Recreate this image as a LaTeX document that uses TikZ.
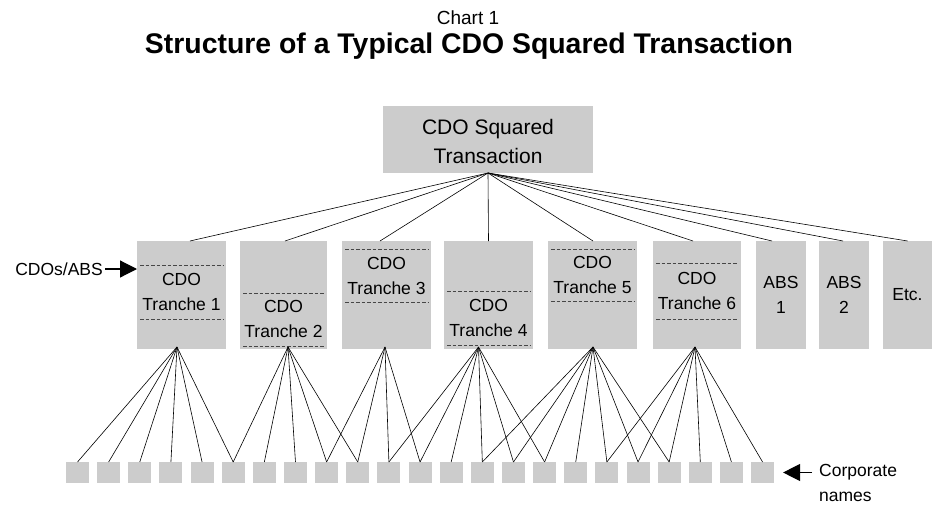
\documentclass[tikz,border=0pt]{standalone}
\usepackage{fontspec}
\setmainfont{Liberation Sans}
\usetikzlibrary{arrows.meta,calc}
\definecolor{boxgray}{RGB}{204,204,204}
\definecolor{dashgray}{RGB}{70,70,70}
\newcommand\dline[2]{\draw[dsh] ($(#1.north west)+(3,#2)$) -- ($(#1.north east)+(-3,#2)$);}
\begin{document}
\begin{tikzpicture}[x=1pt,y=-1pt,
  box/.style={fill=boxgray,draw=none,inner sep=0pt,outer sep=0pt},
  midbox/.style={box,minimum height=108pt},
  sq/.style={box,minimum width=23pt,minimum height=21pt},
  txt/.style={align=center,inner sep=0pt,font=\fontsize{17.5}{25}\selectfont},
  ln/.style={line width=0.6pt,black},
  dsh/.style={dashgray,line width=0.6pt,dash pattern=on 3.5pt off 2pt},
  arr/.style={line width=1.2pt,-{Triangle[length=17pt,width=17pt]}}
]
\useasboundingbox (0,0) rectangle (932,506);
% titles
\node[inner sep=0pt,font=\fontsize{19}{20}\selectfont] (chart) at (468,18) {Chart 1};
\node[inner sep=0pt,font=\fontsize{28.4}{30}\selectfont\bfseries] (title) at (469,46) {Structure of a Typical CDO Squared Transaction};
% top box
\node[box,minimum width=210pt,minimum height=67pt] (top) at (488,139.5) {};
\node[inner sep=0pt,align=center,font=\fontsize{21}{28.5}\selectfont] (toptxt) at (488,141.5) {CDO Squared\\Transaction};
% middle boxes
\node[midbox,minimum width=89pt] (b1) at (181.5,295) {};
\node[midbox,minimum width=87pt] (b2) at (283.5,295) {};
\node[midbox,minimum width=89pt] (b3) at (386.5,295) {};
\node[midbox,minimum width=89pt] (b4) at (488.5,295) {};
\node[midbox,minimum width=89pt] (b5) at (592.5,295) {};
\node[midbox,minimum width=88pt] (b6) at (697,295) {};
\node[midbox,minimum width=50pt] (a1) at (781,295) {};
\node[midbox,minimum width=50pt] (a2) at (844,295) {};
\node[midbox,minimum width=49pt] (etc) at (907.5,295) {};
% dashed tranche lines
\dline{b1}{24}\dline{b1}{78}
\dline{b2}{52}\dline{b2}{105}
\dline{b3}{8}\dline{b3}{61}
\dline{b4}{50}\dline{b4}{104}
\dline{b5}{8}\dline{b5}{60}
\dline{b6}{22}\dline{b6}{78}
% texts in boxes
\node[txt] (t1) at ($(b1.north)+(0,51)$) {CDO\\Tranche 1};
\node[txt] (t2) at ($(b2.north)+(0,78)$) {CDO\\Tranche 2};
\node[txt] (t3) at ($(b3.north)+(0,35)$) {CDO\\Tranche 3};
\node[txt] (t4) at ($(b4.north)+(0,77)$) {CDO\\Tranche 4};
\node[txt] (t5) at ($(b5.north)+(0,34)$) {CDO\\Tranche 5};
\node[txt] (t6) at ($(b6.north)+(0,50)$) {CDO\\Tranche 6};
\node[txt] (ta1) at ($(a1.north)+(0,54)$) {ABS\\1};
\node[txt] (ta2) at ($(a2.north)+(0,54)$) {ABS\\2};
\node[txt] (tetc) at ($(etc.north)+(0,54)$) {Etc.};
% top connectors
\draw[ln] (top.south) -- ([xshift=8.5pt]b1.north);
\draw[ln] (top.south) -- ([xshift=1.5pt]b2.north);
\draw[ln] (top.south) -- ([xshift=-6.5pt]b3.north);
\draw[ln] (top.south) -- (b4.north);
\draw[ln] (top.south) -- ([xshift=0.5pt]b5.north);
\draw[ln] (top.south) -- ([xshift=-4pt]b6.north);
\draw[ln] (top.south) -- ([xshift=-9pt]a1.north);
\draw[ln] (top.south) -- ([xshift=-1pt]a2.north);
\draw[ln] (top.south) -- (etc.north);
% corporate names
\foreach \i in {1,...,23} \node[sq] (s\i) at ({77.5+31.14*(\i-1)},472.5) {};
\foreach \j in {1,...,6} \draw[ln] ([xshift=-4.5pt,yshift=2pt]b1.south) -- (s\j.north);
\foreach \j in {6,...,10} \draw[ln] ([xshift=4.5pt,yshift=2pt]b2.south) -- (s\j.north);
\foreach \j in {9,...,12} \draw[ln] ([xshift=-1.5pt,yshift=2pt]b3.south) -- (s\j.north);
\foreach \j in {11,...,16} \draw[ln] ([xshift=-10pt,yshift=2pt]b4.south) -- (s\j.north);
\foreach \j in {14,...,20} \draw[ln] ([xshift=0.5pt,yshift=2pt]b5.south) -- (s\j.north);
\foreach \j in {18,...,23} \draw[ln] ([xshift=-2pt,yshift=2pt]b6.south) -- (s\j.north);
% side labels
\node[inner sep=0pt,anchor=east,font=\fontsize{17.5}{20}\selectfont] (cdoabs) at (103,269) {CDOs/ABS};
\draw[arr] ([xshift=2pt]cdoabs.east) -- (cdoabs.east -| b1.west);
\node[inner sep=0pt,anchor=north west,align=left,font=\fontsize{17.5}{25}\selectfont] (corp) at (819,464) {Corporate\\names};
\draw[arr] ([xshift=-7pt]corp.west |- s23.east) -- ([xshift=9pt]s23.east);
\end{tikzpicture}
\end{document}
